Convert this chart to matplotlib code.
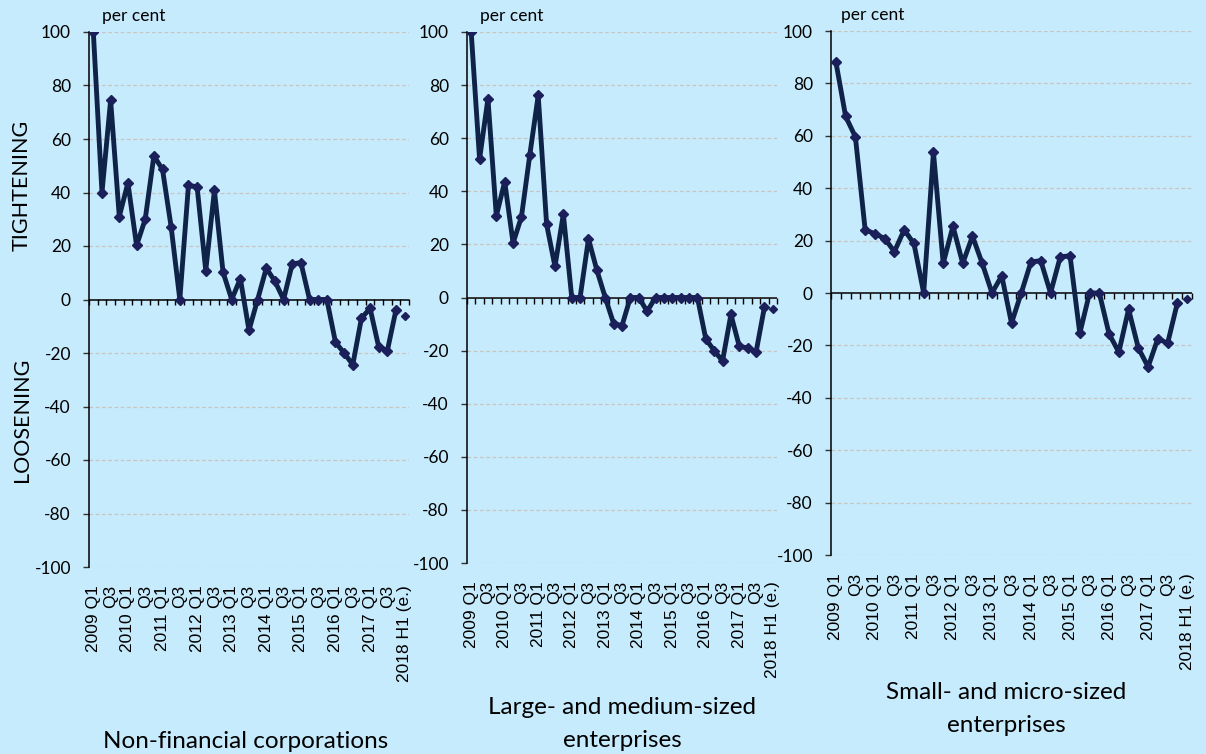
import numpy as np
import matplotlib
matplotlib.use("Agg")
import matplotlib.pyplot as plt

# quarters 2009 Q1 .. 2017 Q4, then 2018 H1 (e.)
years = list(range(2009, 2018))
tick_labels = []
for y in years:
    tick_labels += [f"{y} Q1", "Q3"]
tick_labels.append("2018 H1 (e.)")

nfc = [100, 40, 74.5, 31, 43.6, 20.2, 30, 53.7, 48.6, 27.1, 0, 42.7,
       42.1, 10.8, 40.8, 10.2, 0, 7.8, -11.5, 0, 11.7, 6.8, 0, 13.3,
       13.8, 0, 0, 0, -16, -20, -24.4, -7, -3.3, -17.8, -19.1, -3.8]
nfc_est = -6.3

large = [100, 52.1, 74.9, 30.7, 43.6, 20.5, 30.4, 53.8, 76.1, 27.6, 11.7, 31.4,
         0, 0, 22.1, 10.3, 0, -9.8, -10.6, 0, 0, -5.2, 0, 0,
         0, 0, 0, 0, -15.6, -20, -23.9, -6.4, -18.4, -19, -20.6, -3.6]
large_est = -4.4

small = [88.2, 67.4, 59.6, 24.1, 22.6, 20.8, 15.8, 24.1, 18.9, 0, 53.7, 11.3,
         25.5, 11.3, 21.7, 11.3, 0, 6.6, -11.5, 0, 11.9, 12.3, 0, 13.8,
         14.2, -15.4, 0, 0, -15.6, -22.6, -6.2, -21, -28.2, -17.4, -19.2, -3.8]
small_est = -2.3

titles = ["Non-financial corporations",
          "Large- and medium-sized\nenterprises",
          "Small- and micro-sized\nenterprises"]

BG = "#C6EBFD"
LINE = "#0F2248"
MARK = "#1B1F5A"
FONT = "Lato"

W, H = 1206, 754
fig = plt.figure(figsize=(W / 100, H / 100), dpi=100, facecolor=BG)

# axes boxes in pixels: left, right, top(100), bottom(-100)
boxes = [(89, 409, 32, 567), (467, 777, 32, 563), (831, 1192, 31, 555)]
title_pos = [(246, 741), (622, 724), (1006, 709)]
pc_x = [0.04, 0.042, 0.028]

for i, (series, est) in enumerate([(nfc, nfc_est), (large, large_est), (small, small_est)]):
    l, r, t, b = boxes[i]
    ax = fig.add_axes([l / W, 1 - b / H, (r - l) / W, (b - t) / H])
    ax.patch.set_alpha(0)

    x = np.arange(len(series))
    ax.plot(x, series, "-", color=LINE, linewidth=3.5, zorder=3)
    ax.plot(x, series, "D", color=MARK, markersize=5, zorder=4)
    ax.plot([len(series)], [est], "D", color=MARK, markersize=4, zorder=4)

    ax.set_xlim(-0.5, len(series) + 0.5)
    ax.set_ylim(-100, 100)
    ax.set_yticks(np.arange(-100, 101, 20))
    ax.set_yticklabels([str(v) for v in range(-100, 101, 20)], fontsize=12.5,
                       family=FONT)
    for v in range(-100, 101, 20):
        if v != 0:
            ax.axhline(v, color="#C9C4C0", linestyle=(0, (3, 2)), linewidth=0.9,
                       zorder=1)
    ax.axhline(0, color="black", linewidth=1.1, zorder=2)

    for s in ["top", "right", "bottom"]:
        ax.spines[s].set_visible(False)
    ax.spines["left"].set_linewidth(1.1)
    ax.tick_params(axis="y", direction="out", length=4.5, width=1, pad=8.5,
                   color="#333333")

    # category labels at the bottom
    ax.set_xticks(np.arange(0, len(series) + 1, 2))
    ax.set_xticklabels(tick_labels, rotation=90, fontsize=12.5,
                       family="Liberation Sans")
    ax.tick_params(axis="x", length=0, pad=13)

    # tick marks on the zero line between categories
    sec = ax.secondary_xaxis(0.5)
    sec.set_alignment("bottom")
    sec.set_xticks(np.arange(-0.5, len(series) + 1, 1))
    sec.set_xticklabels([])
    sec.tick_params(axis="x", direction="out", length=4, width=1)
    sec.spines["bottom"].set_visible(False)

    ax.text(pc_x[i], 1.015, "per cent", transform=ax.transAxes, fontsize=12.5,
            family=FONT, va="bottom", ha="left")

    fig.text(title_pos[i][0] / W, 1 - title_pos[i][1] / H, titles[i],
             ha="center", va="center", fontsize=17.5, family=FONT,
             linespacing=1.75)

fig.text(22 / W, 1 - 185 / H, "TIGHTENING", rotation=90, ha="center",
         va="center", fontsize=15.5, family=FONT)
fig.text(22 / W, 1 - 420 / H, "LOOSENING", rotation=90, ha="center",
         va="center", fontsize=15.5, family=FONT)

fig.savefig("out.png", dpi=100, facecolor=BG)
